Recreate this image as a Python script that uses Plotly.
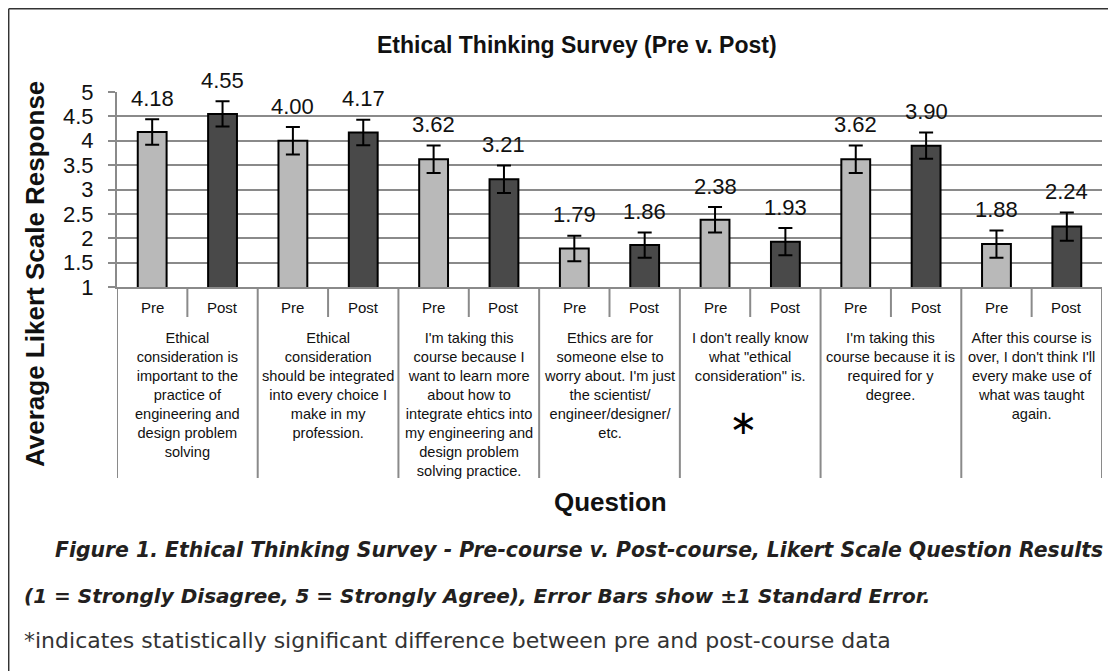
import plotly.graph_objects as go

# ---------------- data ----------------
questions = [
    "Ethical<br>consideration is<br>important to the<br>practice of<br>engineering and<br>design problem<br>solving",
    "Ethical<br>consideration<br>should be integrated<br>into every choice I<br>make in my<br>profession.",
    "I'm taking this<br>course because I<br>want to learn more<br>about how to<br>integrate ehtics into<br>my engineering and<br>design problem<br>solving practice.",
    "Ethics are for<br>someone else to<br>worry about. I'm just<br>the scientist/<br>engineer/designer/<br>etc.",
    "I don't really know<br>what \"ethical<br>consideration\" is.",
    "I'm taking this<br>course because it is<br>required for y<br>degree.",
    "After this course is<br>over, I don't think I'll<br>every make use of<br>what was taught<br>again.",
]
phases = ["Pre", "Post"]
pre_mean = [4.18, 4.00, 3.62, 1.79, 2.38, 3.62, 1.88]
post_mean = [4.55, 4.17, 3.21, 1.86, 1.93, 3.90, 2.24]
pre_se = [0.26, 0.28, 0.28, 0.26, 0.26, 0.28, 0.28]
post_se = [0.26, 0.26, 0.28, 0.26, 0.28, 0.27, 0.29]
significant = [False, False, False, False, True, False, False]
y_ticks = [1, 1.5, 2, 2.5, 3, 3.5, 4, 4.5, 5]

# ---------------- geometry helpers (layout only, page pixels) ----------------
PAGE_W, PAGE_H = 1116, 671
OFF = 8  # default body margin of the html page
W, H = PAGE_W - OFF, PAGE_H - OFF
L, R, T, B = 117, 1102, 92, 287


def px(xp):
    return (xp - L) / (R - L)


def py(yp):
    return (B - yp) / (B - T)


n = len(questions)
pre_x = [2 * i for i in range(n)]
post_x = [2 * i + 1 for i in range(n)]

AX = "Liberation Sans, Arial, sans-serif"
GRID = "#8a8a8a"

fig = go.Figure()
err_style = dict(type="data", visible=True, color="#000", thickness=2, width=7)
fig.add_trace(go.Bar(
    x=pre_x, y=pre_mean, width=0.41, name="Pre",
    marker=dict(color="#b9b9b9", line=dict(color="#000", width=2)),
    error_y=dict(array=pre_se, **err_style), base=0,
))
fig.add_trace(go.Bar(
    x=post_x, y=post_mean, width=0.41, name="Post",
    marker=dict(color="#494949", line=dict(color="#000", width=2)),
    error_y=dict(array=post_se, **err_style), base=0,
))

ann = []
shapes = []
# data labels
for xs, ms, ss in ((pre_x, pre_mean, pre_se), (post_x, post_mean, post_se)):
    for xv, m, s in zip(xs, ms, ss):
        ann.append(dict(x=xv, y=m + s, xref="x", yref="y", text=f"{m:.2f}",
                        showarrow=False, yanchor="middle", yshift=21,
                        font=dict(family=AX, size=22, color="#111")))

# category axis: Pre / Post labels, question text, separators
for i in range(n):
    for j, ph in enumerate(phases):
        ann.append(dict(x=2 * i + j, y=py(307), xref="x", yref="paper", text=ph,
                        showarrow=False, yanchor="middle",
                        font=dict(family=AX, size=15, color="#111")))
    ann.append(dict(x=2 * i + 0.5, y=py(328), xref="x", yref="paper", text=questions[i],
                    showarrow=False, yanchor="top", align="center",
                    font=dict(family=AX, size=14.6, color="#111")))
    if significant[i]:
        ann.append(dict(x=2 * i + 0.4, y=py(422), xref="x", yref="paper", text="\u2217",
                        showarrow=False, yanchor="middle",
                        font=dict(family="DejaVu Sans", size=34, color="#000")))
    shapes.append(dict(type="line", xref="x", yref="paper", x0=2 * i + 0.5, x1=2 * i + 0.5,
                       y0=0, y1=py(317), line=dict(color=GRID, width=2)))
for k in range(n + 1):
    shapes.append(dict(type="line", xref="x", yref="paper", x0=2 * k - 0.5, x1=2 * k - 0.5,
                       y0=0, y1=py(478), line=dict(color=GRID, width=2)))

# outer frame (left and top)
shapes.append(dict(type="line", xref="paper", yref="paper", x0=px(8.7), x1=px(8.7),
                   y0=py(8.7), y1=py(690), line=dict(color="#333", width=1.5)))
shapes.append(dict(type="line", xref="paper", yref="paper", x0=px(8.7), x1=px(1130),
                   y0=py(8.7), y1=py(8.7), line=dict(color="#333", width=1.5)))

# titles
ann.append(dict(x=px(577), y=py(45), xref="paper", yref="paper",
                text="<b>Ethical Thinking Survey (Pre v. Post)</b>", showarrow=False,
                yanchor="middle", font=dict(family=AX, size=23, color="#111")))
ann.append(dict(x=px(35), y=py(274), xref="paper", yref="paper", textangle=-90,
                text="<b>Average Likert Scale Response</b>", showarrow=False,
                xanchor="center", yanchor="middle", font=dict(family=AX, size=26, color="#111")))
ann.append(dict(x=px(610), y=py(502), xref="paper", yref="paper",
                text="<b>Question</b>", showarrow=False, yanchor="middle",
                font=dict(family=AX, size=26, color="#111")))

CAP = "DejaVu Sans, sans-serif"
ann.append(dict(x=px(53), y=py(550), xref="paper", yref="paper", xanchor="left", yanchor="middle",
                text="<b><i>Figure 1. Ethical Thinking Survey - Pre-course v. Post-course, Likert Scale Question Results</i></b>",
                showarrow=False, font=dict(family=CAP, size=20.4, color="#231f20")))
ann.append(dict(x=px(22), y=py(596), xref="paper", yref="paper", xanchor="left", yanchor="middle",
                text="<b><i>(1 = Strongly Disagree, 5 = Strongly Agree), Error Bars show \u00b11 Standard Error.</i></b>",
                showarrow=False, font=dict(family=CAP, size=20, color="#231f20")))
ann.append(dict(x=px(22), y=py(640), xref="paper", yref="paper", xanchor="left", yanchor="middle",
                text="*indicates statistically significant difference between pre and post-course data",
                showarrow=False, font=dict(family=CAP, size=22, color="#333")))

fig.update_layout(
    width=W, height=H,
    margin=dict(l=L - OFF, r=PAGE_W - R, t=T - OFF, b=PAGE_H - B, pad=0),
    paper_bgcolor="white", plot_bgcolor="white",
    showlegend=False, barmode="overlay",
    annotations=ann, shapes=shapes,
)
fig.update_xaxes(range=[-0.5, 2 * n - 0.5], showticklabels=False, showgrid=False,
                 zeroline=False, showline=True, linecolor=GRID, linewidth=2, ticks="")
fig.update_yaxes(range=[1, 5], tickvals=y_ticks, ticktext=[f"{v:g}" for v in y_ticks],
                 showgrid=True, gridcolor=GRID, gridwidth=2, zeroline=False,
                 showline=True, linecolor=GRID, linewidth=2, ticks="outside", ticklen=7,
                 tickcolor=GRID, tickwidth=2, ticklabelstandoff=10,
                 tickfont=dict(family=AX, size=22, color="#111"))

fig.write_html("out.html")
